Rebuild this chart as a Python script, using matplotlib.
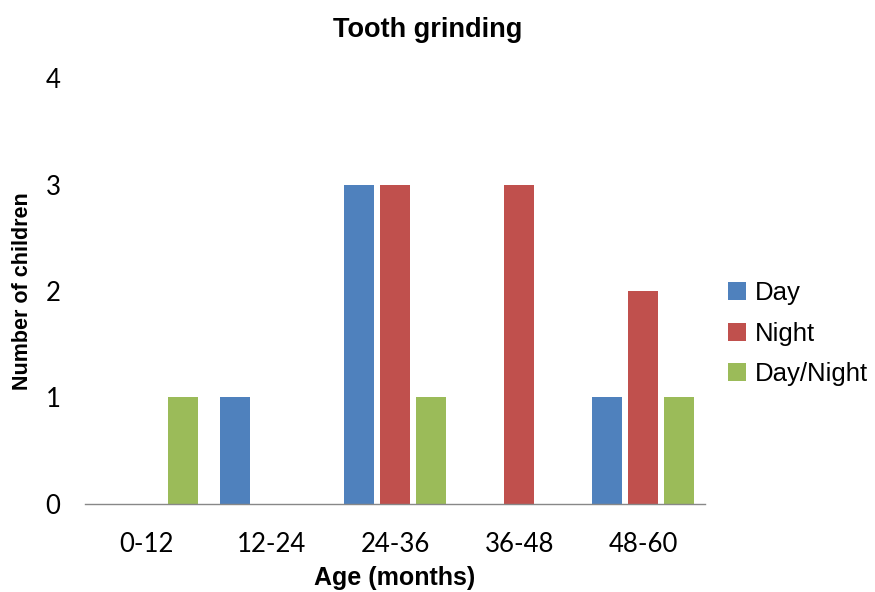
import numpy as np
import matplotlib.pyplot as plt

ages = ['0-12', '12-24', '24-36', '36-48', '48-60']
day = [0, 1, 3, 0, 1]
night = [0, 0, 3, 3, 2]
day_night = [1, 0, 1, 0, 1]

series = [('Day', day, '#4F81BD'),
          ('Night', night, '#C0504D'),
          ('Day/Night', day_night, '#9BBB59')]

fig = plt.figure(figsize=(8.75, 5.92), dpi=100)
ax = fig.add_axes([0.097, 0.149, 0.709, 0.719])

x = np.arange(len(ages))
w = 0.24
step = 0.29
for i, (name, vals, col) in enumerate(series):
    ax.bar(x + (i - 1) * step, vals, width=w, color=col, label=name)

ax.set_xlim(-0.5, len(ages) - 0.5)
ax.set_ylim(0, 4)
ax.set_yticks(range(5))
ax.set_xticks(x)
ax.set_xticklabels(ages, fontsize=18.5, family='Lato')
ax.set_yticklabels([str(v) for v in range(5)], fontsize=18.5, family='Lato')
ax.tick_params(axis='both', length=0)
ax.tick_params(axis='x', pad=20)
ax.tick_params(axis='y', pad=23)
for t in ax.get_yticklabels():
    t.set_horizontalalignment('center')

for s in ['top', 'right', 'left']:
    ax.spines[s].set_visible(False)
ax.spines['bottom'].set_color('#888888')
ax.spines['bottom'].set_linewidth(1)

ax.set_xlabel('Age (months)', fontsize=18, fontweight='bold',
              family='Liberation Sans', labelpad=7)
ax.set_ylabel('Number of children', fontsize=15.5, fontweight='bold',
              family='Liberation Sans', labelpad=9)
fig.text(0.489, 0.95, 'Tooth grinding', ha='center', va='center',
         fontsize=19.5, fontweight='bold', family='Liberation Sans')

leg = ax.legend(loc='center left', bbox_to_anchor=(1.0, 0.40), frameon=False,
                prop={'family': 'Liberation Sans', 'size': 18.5},
                handlelength=0.7, handleheight=0.7,
                handletextpad=0.35, labelspacing=0.65)

plt.savefig('out.png', dpi=100)
